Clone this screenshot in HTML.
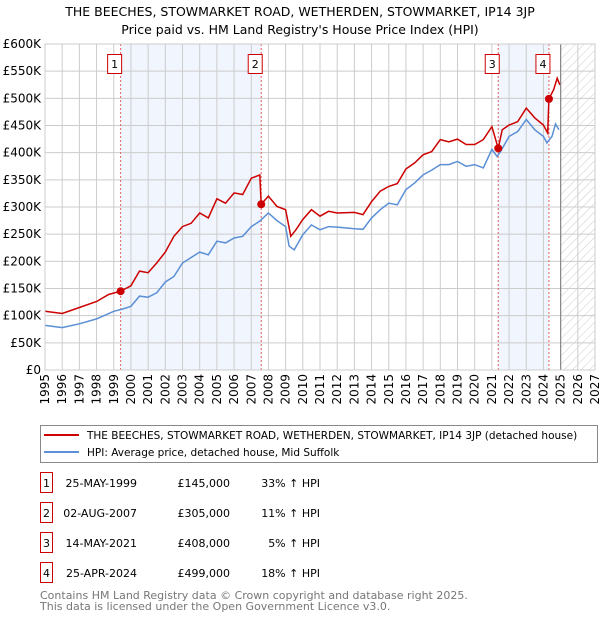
<!DOCTYPE html>
<html><head><meta charset="utf-8">
<style>
body{margin:0;width:600px;height:620px;background:#fff;font-family:"DejaVu Sans","Liberation Sans",sans-serif;overflow:hidden}
svg{position:absolute;left:0;top:0}
</style></head>
<body>
<svg id="chart" width="600" height="620">
<defs>
<pattern id="hatch" width="6" height="6" patternUnits="userSpaceOnUse" patternTransform="rotate(45)">
<line x1="0" y1="0" x2="0" y2="6" stroke="#ccc" stroke-width="1"/>
</pattern>
</defs>
<text x="300" y="16" text-anchor="middle" font-size="12.5" fill="#000">THE BEECHES, STOWMARKET ROAD, WETHERDEN, STOWMARKET, IP14 3JP</text>
<text x="300" y="34" text-anchor="middle" font-size="12.5" fill="#000">Price paid vs. HM Land Registry's House Price Index (HPI)</text>
<g id="plot"></g>
<g>
<rect x="40.5" y="425.5" width="557" height="37" fill="#fff" stroke="#888"/>
<line x1="44" y1="435" x2="79" y2="435" stroke="#cc0000" stroke-width="2"/>
<text x="87" y="439" font-size="10.5">THE BEECHES, STOWMARKET ROAD, WETHERDEN, STOWMARKET, IP14 3JP (detached house)</text>
<line x1="44" y1="452" x2="79" y2="452" stroke="#5b8fd6" stroke-width="2"/>
<text x="87" y="456" font-size="10.5">HPI: Average price, detached house, Mid Suffolk</text>
</g>
<g id="table" font-size="11"></g>
<text x="40" y="599" font-size="11" fill="#777">Contains HM Land Registry data © Crown copyright and database right 2025.</text>
<text x="40" y="610" font-size="11" fill="#777">This data is licensed under the Open Government Licence v3.0.</text>
</svg>
<script>
const yTicks=[0,50,100,150,200,250,300,350,400,450,500,550,600];
const yTickLabels=["£0","£50K","£100K","£150K","£200K","£250K","£300K","£350K","£400K","£450K","£500K","£550K","£600K"];
const xYears=[1995,1996,1997,1998,1999,2000,2001,2002,2003,2004,2005,2006,2007,2008,2009,2010,2011,2012,2013,2014,2015,2016,2017,2018,2019,2020,2021,2022,2023,2024,2025,2026,2027];
const hpiT=[1995,1996,1997,1998,1999,1999.5,2000,2000.5,2001,2001.5,2002,2002.5,2003,2004,2004.5,2005,2005.5,2006,2006.5,2007,2007.5,2008,2008.5,2009,2009.2,2009.5,2010,2010.5,2011,2011.5,2012,2013,2013.5,2014,2014.5,2015,2015.5,2016,2016.5,2017,2017.5,2018,2018.5,2019,2019.5,2020,2020.5,2021,2021.3,2021.5,2022,2022.5,2023,2023.5,2024,2024.2,2024.5,2024.7,2024.9];
const hpiV=[82,78,85,94,108,112,117,136,134,142,162,172,197,217,212,237,234,243,246,264,274,289,275,264,228,221,249,267,258,264,263,260,259,280,295,307,304,332,344,359,368,378,378,384,375,378,372,406,393,402,430,439,461,442,430,418,430,453,442];
const priceT=[1995,1996,1997,1998,1998.7,1999.4,2000,2000.5,2001,2001.5,2002,2002.5,2003,2003.5,2004,2004.5,2005,2005.5,2006,2006.5,2007,2007.5,2007.58,2008,2008.5,2009,2009.3,2009.6,2010,2010.5,2011,2011.5,2012,2013,2013.5,2014,2014.5,2015,2015.5,2016,2016.5,2017,2017.5,2018,2018.5,2019,2019.5,2020,2020.5,2021,2021.37,2021.6,2022,2022.5,2023,2023.5,2024,2024.25,2024.32,2024.6,2024.8,2024.95];
const priceV=[108,104,115,126,139,145,155,182,179,197,217,246,264,270,289,280,315,307,326,323,353,359,305,320,301,295,246,258,277,295,283,292,289,290,286,310,329,338,343,370,381,396,402,424,420,425,415,415,424,448,408,442,451,457,482,464,451,436,499,516,537,525];
const saleLabels=["1","2","3","4"];
const saleT=[1999.4,2007.58,2021.37,2024.32];
const saleV=[145,305,408,499];
const saleDates=["25-MAY-1999","02-AUG-2007","14-MAY-2021","25-APR-2024"];
const salePrices=["£145,000","£305,000","£408,000","£499,000"];
const saleHpi=["33% ↑ HPI","11% ↑ HPI","5% ↑ HPI","18% ↑ HPI"];

const X0=45,X1=595,Y0=370,Y1=44;
const xs=t=>X0+(t-1995)/(2027-1995)*(X1-X0);
const ys=v=>Y0-v/600*(Y0-Y1);
const NS="http://www.w3.org/2000/svg";
const plot=document.getElementById('plot');
function mk(tag,attrs,parent){const e=document.createElementNS(NS,tag);for(const k in attrs)e.setAttribute(k,attrs[k]);(parent||plot).appendChild(e);return e;}

for(const [a,b] of [[0,1],[2,3]]){
  const r=mk('rect',{x:xs(saleT[a]),y:Y1,width:xs(saleT[b])-xs(saleT[a]),height:Y0-Y1,fill:'#eef3fc',opacity:0.8});
  
  
}
const h=mk('rect',{x:xs(2025),y:Y1,width:X1-xs(2025),height:Y0-Y1,fill:'url(#hatch)'});


yTicks.forEach((v,i)=>{
  const l=mk('line',{x1:X0,x2:X1,y1:ys(v),y2:ys(v),stroke:'#ccc','stroke-width':1});
  
  
  const t=mk('text',{x:X0-4,y:ys(v)+4,'text-anchor':'end','font-size':12,fill:'#000'});
  t.textContent=yTickLabels[i];
  
  
});
xYears.forEach(yr=>{
  const l=mk('line',{x1:xs(yr),x2:xs(yr),y1:Y1,y2:Y0,stroke:'#ccc','stroke-width':1});
  
  
  const t=mk('text',{transform:`translate(${xs(yr)+4},${Y0+4}) rotate(-90)`,'text-anchor':'end','font-size':12,fill:'#000'});
  t.textContent=yr;
  
  
});
const nl=mk('line',{x1:xs(2025),x2:xs(2025),y1:Y1,y2:Y0,stroke:'#888','stroke-width':1.2});


saleT.forEach(t=>{
  const l=mk('line',{x1:xs(t),x2:xs(t),y1:Y1,y2:Y0,stroke:'#e06060','stroke-width':1,'stroke-dasharray':'2,2'});
  
  
});
function pathD(T,V){return T.map((t,i)=>(i?'L':'M')+xs(t).toFixed(1)+','+ys(V[i]).toFixed(1)).join('');}
const hp=mk('path',{d:pathD(hpiT,hpiV),fill:'none',stroke:'#5b8fd6','stroke-width':1.5});


const pp=mk('path',{d:pathD(priceT,priceV),fill:'none',stroke:'#cc0000','stroke-width':1.5});


saleT.forEach((t,i)=>{
  const c=mk('circle',{cx:xs(t),cy:ys(saleV[i]),r:4,fill:'#cc0000'});
  
  
  const g=mk('g',{});
  
  
  mk('rect',{x:xs(t)-13,y:54.5,width:14,height:19,fill:'#fff',stroke:'#cc0000'},g);
  const tx=mk('text',{x:xs(t)-6,y:68,'text-anchor':'middle','font-size':11},g);
  tx.textContent=saleLabels[i];
});
const frame=mk('rect',{x:X0,y:Y1,width:X1-X0,height:Y0-Y1,fill:'none',stroke:'#ccc'});


const tb=document.getElementById('table');
saleLabels.forEach((lab,i)=>{
  const cy=483+i*30;
  const row=mk('g',{},tb);
  
  
  mk('rect',{x:40.5,y:cy-10.5,width:12,height:20,fill:'#fff',stroke:'#cc0000'},row);
  const a=mk('text',{x:46.5,y:cy+4,'text-anchor':'middle'},row);a.textContent=lab;
  const d=mk('text',{x:137,y:cy+4,'text-anchor':'end'},row);d.textContent=saleDates[i];
  const p=mk('text',{x:230,y:cy+4,'text-anchor':'end'},row);p.textContent=salePrices[i];
  const q=mk('text',{x:320,y:cy+4,'text-anchor':'end'},row);q.textContent=saleHpi[i];
});
</script>
</body></html>
